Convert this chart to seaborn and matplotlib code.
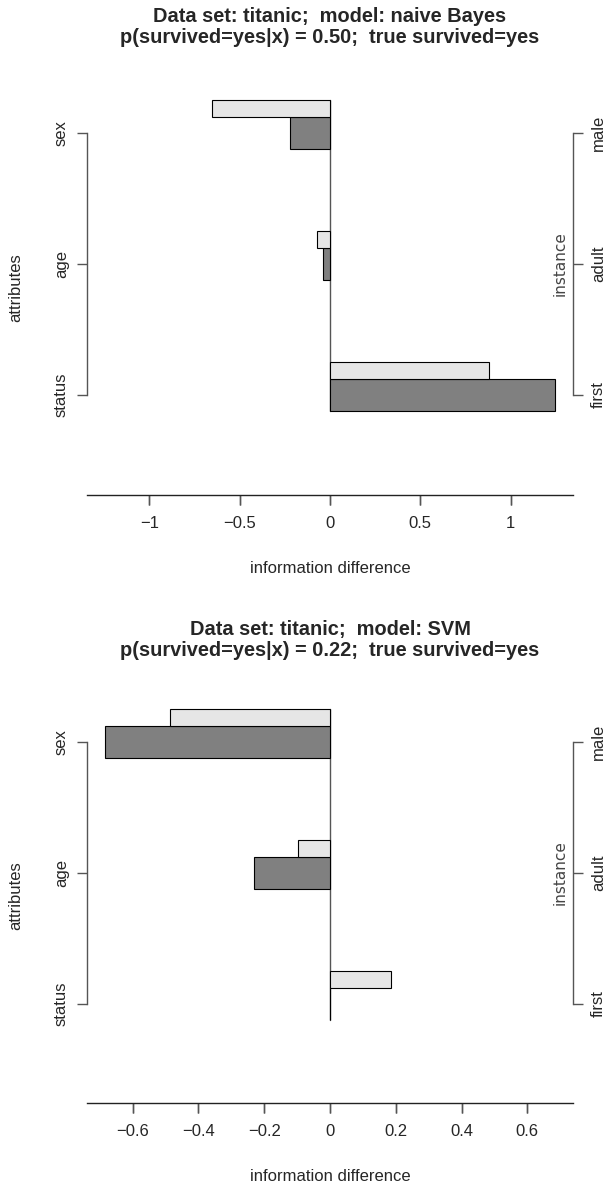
import numpy as np
import pandas as pd
import seaborn as sns
import matplotlib.pyplot as plt
import matplotlib.transforms as mtransforms

# attributes and the instance values shown on the right axis
attributes = ['sex', 'age', 'status']
instance_values = ['male', 'adult', 'first']

# light bars (upper, thin) and dark bars (centred, thick), per model
nb_light = [-0.655, -0.071, 0.882]
nb_dark = [-0.223, -0.036, 1.245]
svm_light = [-0.485, -0.096, 0.185]
svm_dark = [-0.684, -0.231, 0.0]

titles = ['Data set: titanic;  model: naive Bayes\np(survived=yes|x) = 0.50;  true survived=yes',
          'Data set: titanic;  model: SVM\np(survived=yes|x) = 0.22;  true survived=yes']
xticks_list = [[-1, -0.5, 0, 0.5, 1], [-0.6, -0.4, -0.2, 0, 0.2, 0.4, 0.6]]

sns.set_style('ticks')
plt.rcParams['font.family'] = ['Liberation Sans', 'DejaVu Sans']

W, H = 608, 1187
fig = plt.figure(figsize=(W / 100, H / 100), dpi=100)

axcol = '#555555'
panels = [(nb_light, nb_dark, 80, 495), (svm_light, svm_dark, 689, 1103)]

for i, (light, dark, top_px, bot_px) in enumerate(panels):
    ax = fig.add_axes([87 / W, 1 - bot_px / H, 486 / W, (bot_px - top_px) / H])
    pos = np.arange(1, len(attributes) + 1)
    df = pd.DataFrame({'attr': attributes, 'pos': pos, 'light': light, 'dark': dark})
    df['pos_light'] = df['pos'] - 0.1875

    # zero line spanning the bars
    ax.plot([0, 0], [pos[0] - 0.25, pos[-1] + 0.125], color=axcol, lw=1, zorder=1)

    sns.barplot(data=df, x='dark', y='pos', orient='h', native_scale=True, width=0.25,
                color='#808080', saturation=1, edgecolor='black', linewidth=0.8,
                errorbar=None, ax=ax, zorder=2)
    sns.barplot(data=df, x='light', y='pos_light', orient='h', native_scale=True, width=0.125,
                color='#e6e6e6', saturation=1, edgecolor='black', linewidth=0.8,
                errorbar=None, ax=ax, zorder=2)

    m = max(np.abs(light).max(), np.abs(dark).max())
    ax.set_xlim(-m * 1.08, m * 1.08)
    ax.set_ylim(1 + (bot_px - 133 - 609 * i) / 131, 1 - (133 + 609 * i - top_px) / 131)

    xt = xticks_list[i]
    ax.set_xticks(xt, [f'{v:g}'.replace('-', '\u2212') for v in xt])
    ax.set_yticks(pos, attributes, rotation=90, va='center')
    ax.set_xlabel('information difference', fontsize=12, labelpad=22)
    ax.set_ylabel('attributes', fontsize=12, labelpad=22)

    for s in ['top', 'right']:
        ax.spines[s].set_visible(False)
    ax.spines['left'].set_bounds(pos[0], pos[-1])
    ax.spines['left'].set_color(axcol)
    ax.spines['bottom'].set_color('#222222')
    ax.spines['left'].set_linewidth(1)
    ax.spines['bottom'].set_linewidth(1)

    tw = ax.twinx()
    tw.set_ylim(ax.get_ylim())
    tw.set_yticks(pos, instance_values, rotation=90, va='center')
    tw.tick_params(axis='y', direction='out', length=7, width=1, color=axcol,
                   labelsize=12, pad=6, right=True, left=False)
    for s in ['top', 'left', 'bottom']:
        tw.spines[s].set_visible(False)
    tw.spines['right'].set_bounds(pos[0], pos[-1])
    tw.spines['right'].set_color(axcol)
    tw.spines['right'].set_linewidth(1)

    ax.tick_params(axis='x', direction='out', length=7, width=1, color=axcol,
                   labelsize=12, pad=8, bottom=True, top=False)
    ax.tick_params(axis='y', direction='out', length=7, width=1, color=axcol,
                   labelsize=12, pad=6, left=True, right=False)

    # tick marks under the bottom axis line, one per x tick
    trans = mtransforms.blended_transform_factory(ax.transData, ax.transAxes)
    ax.vlines(xt, -10 / (bot_px - top_px), 0, transform=trans, colors=axcol,
              lw=1, clip_on=False)

    ax.annotate('instance', xy=(1, pos[1]), xycoords=('axes fraction', 'data'),
                xytext=(-9, 0), textcoords='offset points', rotation=90,
                ha='center', va='center', fontsize=11, color='#444444',
                family=['DejaVu Sans'])

    fig.text(330 / W, 1 - (27 + 613 * i) / H, titles[i], ha='center', va='center',
             fontsize=14.4, fontweight='bold', linespacing=1.1)

fig.savefig('out.png', dpi=100)
